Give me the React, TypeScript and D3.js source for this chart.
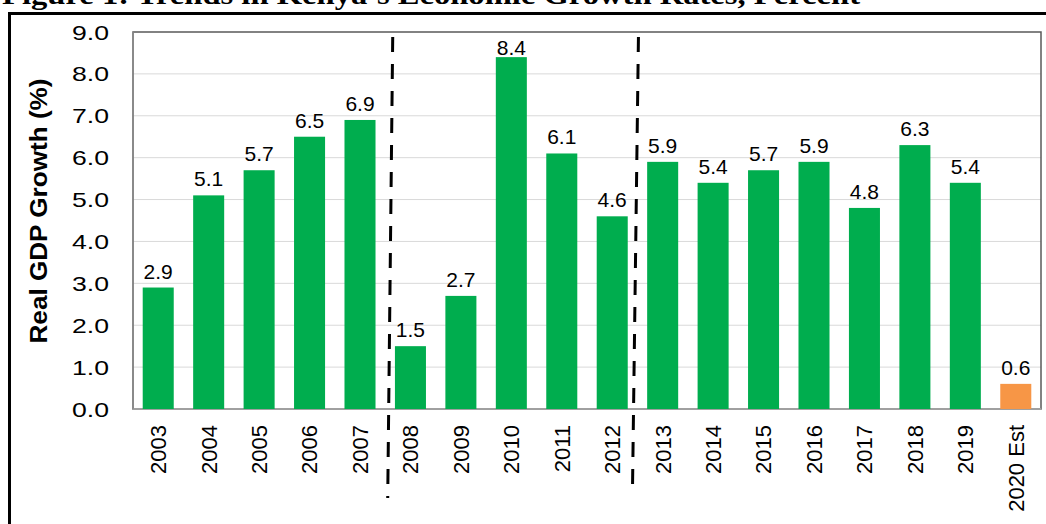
import React from "react";
import * as d3 from "d3";

const categories = ["2003","2004","2005","2006","2007","2008","2009","2010","2011","2012","2013","2014","2015","2016","2017","2018","2019","2020 Est"];
const values = [2.9, 5.1, 5.7, 6.5, 6.9, 1.5, 2.7, 8.4, 6.1, 4.6, 5.9, 5.4, 5.7, 5.9, 4.8, 6.3, 5.4, 0.6];
const estimateFlags = [false,false,false,false,false,false,false,false,false,false,false,false,false,false,false,false,false,true];
const yTicks = [0,1,2,3,4,5,6,7,8,9];
const periodBreaks = ["2008", "2013"];
const titleText = "Figure 1: Trends in Kenya\u2019s Economic Growth Rates, Percent";
const yAxisTitle = "Real GDP Growth  (%)";

const W = 1046, H = 524;
const left = 133, right = 1041, top = 32, bottom = 409;
const GREEN = "#00AD4E";
const ORANGE = "#F79646";
const FONT = "'Liberation Sans', Arial, sans-serif";

export default function App() {
  const x = d3.scaleBand<string>().domain(categories).range([left, right]).paddingInner(0.385).paddingOuter(0.1925);
  const y = d3.scaleLinear().domain([0, 9]).range([bottom, top]);
  const step = x.step();
  const bw = x.bandwidth();

  const breakLines = periodBreaks.map((c, i) => {
    const bx = (x(c) as number) - (step - bw) / 2;
    return i === 0
      ? { x1: bx + 7.5, y1: 37, x2: bx + 2.5, y2: 498 }
      : { x1: bx + 1, y1: 37, x2: bx - 5, y2: 493 };
  });

  return (
    <svg width={W} height={H} style={{ position: "absolute", left: 0, top: 0, background: "#fff" }}>
      <text x={2} y={4} fontFamily="'Liberation Serif', 'Times New Roman', serif" fontWeight="bold" fontSize={28} textLength={858} lengthAdjust="spacingAndGlyphs" fill="#000">{titleText}</text>
      <rect x={9.5} y={13.5} width={1100} height={600} fill="none" stroke="#000" strokeWidth={3} />

      {yTicks.filter(t => t > 0 && t < 9).map(t => (
        <line key={"g" + t} x1={left} x2={right} y1={y(t)} y2={y(t)} stroke="#d9d9d9" strokeWidth={1} />
      ))}
      <rect x={left} y={top} width={right - left} height={bottom - top} fill="none" stroke="#595959" strokeWidth={1.5} />
      <line x1={left} x2={right} y1={bottom} y2={bottom} stroke="#a0a0a0" strokeWidth={2} />
      <line x1={left} x2={left} y1={top} y2={bottom} stroke="#8c8c8c" strokeWidth={1.5} />

      {categories.map((c, i) => (
        <rect key={"b" + c} x={x(c)} y={y(values[i])} width={bw} height={bottom - y(values[i])} fill={estimateFlags[i] ? ORANGE : GREEN} />
      ))}

      {categories.map((c, i) => {
        const yy = Math.max(y(values[i]) - 9, top + 23);
        return (
          <text key={"l" + c} x={(x(c) as number) + bw / 2} y={yy} textAnchor="middle" fontFamily={FONT} fontSize={21} fill="#000">
            {values[i].toFixed(1)}
          </text>
        );
      })}

      {yTicks.map(t => (
        <text key={"t" + t} x={109} y={y(t)} dy="0.36em" textAnchor="end" fontFamily={FONT} fontSize={21} textLength={37} lengthAdjust="spacingAndGlyphs" fill="#000">
          {t.toFixed(1)}
        </text>
      ))}

      {categories.map(c => {
        const cx = (x(c) as number) + bw / 2;
        const cy = 425;
        return (
          <text key={"x" + c} transform={`translate(${cx},${cy}) rotate(-90)`} dy="0.36em" textAnchor="end" fontFamily={FONT} fontSize={22} fill="#000">
            {c}
          </text>
        );
      })}

      <text transform={`translate(47,211) rotate(-90)`} textAnchor="middle" fontFamily={FONT} fontWeight="bold" fontSize={24} textLength={265} lengthAdjust="spacingAndGlyphs" fill="#000">
        {yAxisTitle}
      </text>

      {breakLines.map((l, i) => (
        <line key={"d" + i} x1={l.x1} y1={l.y1} x2={l.x2} y2={l.y2} stroke="#000" strokeWidth={3} strokeDasharray="15 12" />
      ))}
    </svg>
  );
}
